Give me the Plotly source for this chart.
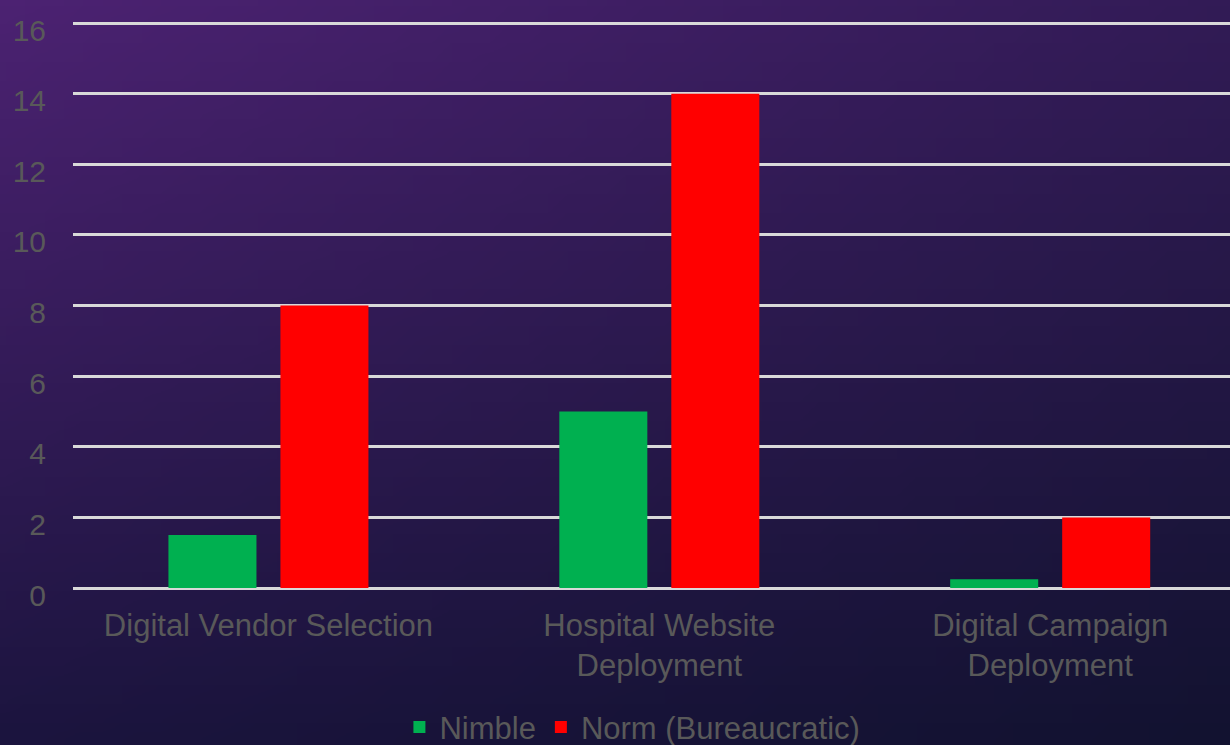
import base64, struct, zlib
import plotly.graph_objects as go

categories = ["Digital Vendor Selection", "Hospital Website<br>Deployment", "Digital Campaign<br>Deployment"]
nimble = [1.5, 5.0, 0.25]
norm = [8.0, 14.0, 2.0]
series_names = ["Nimble", "Norm (Bureaucratic)"]
y_ticks = [0, 2, 4, 6, 8, 10, 12, 14, 16]

W, H = 1230, 745
ML, MR, MT, MB = 73, 0, 22, 157


def gradient_png(w, h, tl, tr, bl, br):
    rows = []
    for j in range(h):
        fy = j / (h - 1)
        row = bytearray([0])
        for i in range(w):
            fx = i / (w - 1)
            for c in range(3):
                top = tl[c] * (1 - fx) + tr[c] * fx
                bot = bl[c] * (1 - fx) + br[c] * fx
                row.append(int(round(top * (1 - fy) + bot * fy)))
        rows.append(bytes(row))
    raw = b"".join(rows)

    def chunk(t, d):
        c = struct.pack(">I", len(d)) + t + d
        return c + struct.pack(">I", zlib.crc32(t + d) & 0xFFFFFFFF)

    data = b"\x89PNG\r\n\x1a\n"
    data += chunk(b"IHDR", struct.pack(">IIBBBBB", w, h, 8, 2, 0, 0, 0))
    data += chunk(b"IDAT", zlib.compress(raw, 9))
    data += chunk(b"IEND", b"")
    return "data:image/png;base64," + base64.b64encode(data).decode()


bg = gradient_png(64, 40, (76, 34, 114), (50, 27, 86), (27, 20, 62), (18, 18, 48))

pw = W - ML - MR
ph = H - MT - MB

fig = go.Figure()
fig.add_trace(go.Bar(x=categories, y=nimble, name=series_names[0],
                     marker=dict(color="#00B050", line=dict(width=0))))
fig.add_trace(go.Bar(x=categories, y=norm, name=series_names[1],
                     marker=dict(color="#FF0000", line=dict(width=0))))

fig.update_layout(
    width=W, height=H,
    margin=dict(l=ML, r=MR, t=MT, b=MB, autoexpand=False),
    paper_bgcolor="#1a1440",
    plot_bgcolor="rgba(0,0,0,0)",
    barmode="group",
    bargap=0.427,
    bargroupgap=0.214,
    font=dict(family="Liberation Sans, Arial, sans-serif", color="#595959", size=31),
    images=[dict(
        source=bg, xref="paper", yref="paper",
        x=-(ML + 5) / pw, y=1 + (MT + 5) / ph, sizex=(W + 10) / pw, sizey=(H + 10) / ph,
        xanchor="left", yanchor="top", sizing="stretch", layer="below",
    )],
    legend=dict(
        orientation="h", x=0.4835, y=-0.246, xanchor="center", yanchor="middle",
        font=dict(size=31, color="#595959"), bgcolor="rgba(0,0,0,0)",
        itemwidth=30, traceorder="normal",
    ),
    xaxis=dict(
        range=[-0.5, 2.46], showgrid=False, showline=False, ticks="", zeroline=False,
        tickfont=dict(size=31, color="#595959"), ticklabelstandoff=16, automargin=False,
    ),
    yaxis=dict(
        range=[0, 16.03], tickvals=y_ticks, showgrid=True, gridcolor="#D9D9D9", gridwidth=2.5,
        zeroline=True, zerolinecolor="#D9D9D9", zerolinewidth=2.5, showline=False, ticks="",
        tickfont=dict(size=30, color="#595959"), ticklabelstandoff=26, ticklabelshift=7,
        automargin=False,
    ),
)

fig.write_html("out.html")
